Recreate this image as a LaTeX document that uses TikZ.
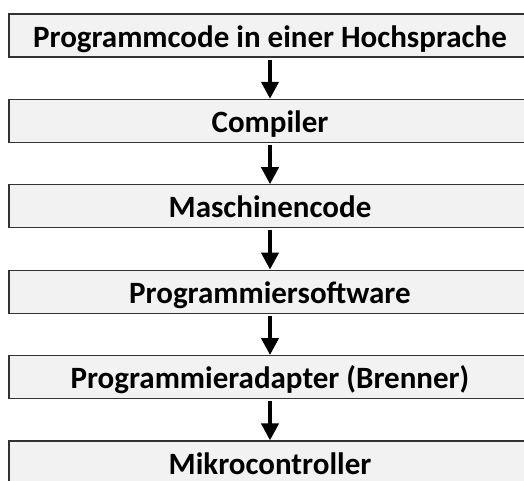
\documentclass[tikz,border=0pt]{standalone}
\usepackage{fontspec}
\setmainfont{Carlito}
\usetikzlibrary{arrows.meta}
\begin{document}
\begin{tikzpicture}[x=1pt,y=-1pt,
  stage/.style={draw=black!80, line width=1.2pt, fill=black!5,
    minimum width=522pt, minimum height=43pt, inner sep=0pt,
    text height=23pt, text depth=0pt,
    font=\fontsize{31}{37}\selectfont\bfseries},
  flow/.style={line width=4pt, -{Triangle[width=17pt,length=17pt]}, shorten <=2pt}
]
\useasboundingbox (0,0) rectangle (524,480);
\node[stage] (s1) at (270,35.5)  {Programmcode in einer Hochsprache};
\node[stage] (s2) at (270,120.9) {Compiler};
\node[stage] (s3) at (270,206.3) {Maschinencode};
\node[stage] (s4) at (270,291.7) {Programmiersoftware};
\node[stage] (s5) at (270,377.1) {Programmieradapter (Brenner)};
\node[stage] (s6) at (270,462.5) {Mikrocontroller};
\foreach \a/\b in {s1/s2,s2/s3,s3/s4,s4/s5,s5/s6}
  \draw[flow] (\a.south) -- (\b.north);
\end{tikzpicture}
\end{document}
